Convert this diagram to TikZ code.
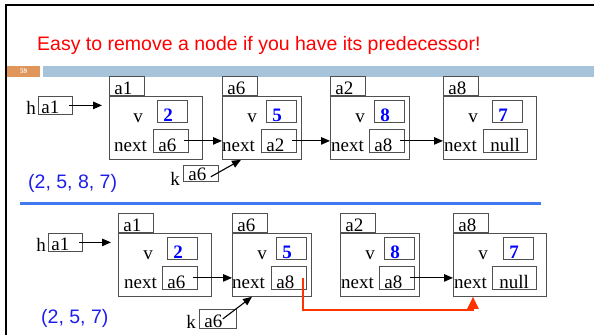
\documentclass[tikz,border=0pt]{standalone}
\usepackage{fontspec}
\setmainfont{Liberation Serif}
\newfontfamily\arialfont{Liberation Sans}
\usepackage{xcolor}
\usetikzlibrary{arrows.meta,positioning,calc}
\definecolor{boxgray}{RGB}{80,80,80}
\definecolor{valblue}{RGB}{0,0,255}
\definecolor{listblue}{RGB}{30,30,235}
\definecolor{titlered}{RGB}{255,0,0}
\definecolor{linkred}{RGB}{255,51,0}
\definecolor{barblue}{RGB}{166,195,218}
\definecolor{barorange}{RGB}{224,149,91}
\definecolor{sepblue}{RGB}{66,120,240}

\begin{document}
\begin{tikzpicture}[x=1pt,y=-1pt,
  txt/.style={inner sep=0pt,font=\fontsize{19}{19}\selectfont},
  box/.style={draw=boxgray,line width=.8pt,inner xsep=5pt,inner ysep=0pt,
    text depth=1pt,align=left,anchor=north west,font=\fontsize{19}{19}\selectfont},
  record/.style={draw=boxgray,line width=.8pt,minimum height=63pt,inner sep=0pt,anchor=north west},
  wide/.style={record,minimum width=93pt},
  narrow/.style={record,minimum width=79pt},
  tab/.style={box,text width=25pt,text height=18pt,anchor=south west},
  ptrbox/.style={box,inner xsep=3pt,text width=28pt,text height=17pt},
  valbox/.style={box,inner xsep=6pt,text width=18pt,text height=21pt,text depth=.5pt,
    text=valblue,font=\fontsize{19}{19}\selectfont\bfseries},
  nextbox/.style={box,text width=25pt,text height=22pt},
  nullbox/.style={box,inner xsep=7pt,text width=30pt,text height=22pt},
  listlbl/.style={anchor=base west,inner sep=0pt,text=listblue,
    font=\arialfont\fontsize{19.5}{20}\selectfont},
  ptr/.style={line width=1.1pt,-{Triangle[length=9pt,width=7.5pt]}},
  relink/.style={draw=linkred,line width=2.2pt,-{Triangle[length=12pt,width=11pt]}}]
\useasboundingbox (0,0) rectangle (594,335);

% slide frame, title and header bar
\draw[line width=2pt] (6,335) -- (6,5) -- (594,5);
\node[anchor=base west,inner sep=0pt,text=titlered,font=\arialfont\fontsize{19.5}{20}\selectfont]
  (title) at (37,50) {Easy to remove a node if you have its predecessor!};
\fill[barorange] (7,66) rectangle (40,77);
\node[text=white,font=\fontsize{7}{7}\selectfont\bfseries,inner sep=0pt] (page) at (23.5,71.5) {59};
\fill[barblue] (43,66) rectangle (594,77);

% list before removal
\node[txt,anchor=base east] (thl) at (36,114) {h};
\node[ptrbox] (th) at (38,96) {a1};

\node[wide] (ta1) at (109,96) {};
\node[tab] (ta1t) at (ta1.north west) {a1};
\node[txt,anchor=base] (ta1vl) at (138,122) {v};
\node[valbox] (ta1v) at (157,100) {2};
\node[txt,anchor=base west] (ta1nl) at (114,151) {next};
\node[nextbox] (ta1n) at (153,129) {a6};

\node[narrow] (ta6) at (222,96) {};
\node[tab] (ta6t) at (ta6.north west) {a6};
\node[txt,anchor=base] (ta6vl) at (252,122) {v};
\node[valbox] (ta6v) at (266,100) {5};
\node[txt,anchor=base west] (ta6nl) at (222,151) {next};
\node[nextbox] (ta6n) at (261,129) {a2};

\node[narrow] (ta2) at (330,96) {};
\node[tab] (ta2t) at (ta2.north west) {a2};
\node[txt,anchor=base] (ta2vl) at (360,122) {v};
\node[valbox] (ta2v) at (374,100) {8};
\node[txt,anchor=base west] (ta2nl) at (331,151) {next};
\node[nextbox] (ta2n) at (369,129) {a8};

\node[wide] (ta8) at (443,96) {};
\node[tab] (ta8t) at (ta8.north west) {a8};
\node[txt,anchor=base] (ta8vl) at (473,122) {v};
\node[valbox] (ta8v) at (492,100) {7};
\node[txt,anchor=base west] (ta8nl) at (444,151) {next};
\node[nullbox] (ta8n) at (483,129) {null};

\node[txt,anchor=base east] (tkl) at (180,185) {k};
\node[box,text width=25pt,text height=15pt] (tk) at (183,165) {a6};
\node[listlbl] (tlist) at (28,188) {(2, 5, 8, 7)};

\draw[ptr,shorten >=7pt] ([xshift=-4pt]th.east) -- (th -| ta1.west);
\draw[ptr] ([xshift=-5pt]ta1n.east) -- (ta1n -| ta6.west);
\draw[ptr] ([xshift=-5pt]ta6n.east) -- (ta6n -| ta2.west);
\draw[ptr] ([xshift=-5pt]ta2n.east) -- (ta2n -| ta8.west);
\draw[ptr] ([xshift=-8pt,yshift=5pt]tk.south east) -- ([xshift=19pt]ta6.south west);

% separator
\draw[sepblue,line width=3pt] (20,203) -- (541,203);

% list after a2 is unlinked
\node[txt,anchor=base east] (bhl) at (46,251) {h};
\node[ptrbox] (bh) at (48,233) {a1};

\node[wide] (ba1) at (118,233) {};
\node[tab] (ba1t) at (ba1.north west) {a1};
\node[txt,anchor=base] (ba1vl) at (148,259) {v};
\node[valbox] (ba1v) at (167,237) {2};
\node[txt,anchor=base west] (ba1nl) at (124,288) {next};
\node[nextbox] (ba1n) at (162,266) {a6};

\node[narrow] (ba6) at (232,233) {};
\node[tab] (ba6t) at (ba6.north west) {a6};
\node[txt,anchor=base] (ba6vl) at (262,259) {v};
\node[valbox] (ba6v) at (276,237) {5};
\node[txt,anchor=base west] (ba6nl) at (232,288) {next};
\node[nextbox] (ba6n) at (271,266) {a8};

\node[narrow] (ba2) at (340,233) {};
\node[tab] (ba2t) at (ba2.north west) {a2};
\node[txt,anchor=base] (ba2vl) at (370,259) {v};
\node[valbox] (ba2v) at (384,237) {8};
\node[txt,anchor=base west] (ba2nl) at (341,288) {next};
\node[nextbox] (ba2n) at (379,266) {a8};

\node[wide] (ba8) at (453,233) {};
\node[tab] (ba8t) at (ba8.north west) {a8};
\node[txt,anchor=base] (ba8vl) at (483,259) {v};
\node[valbox] (ba8v) at (503,237) {7};
\node[txt,anchor=base west] (ba8nl) at (454,288) {next};
\node[nullbox] (ba8n) at (492,266) {null};

\node[txt,anchor=base east] (bkl) at (196,328) {k};
\node[box,text width=27pt,text height=18pt] (bk) at (199,309) {a6};
\node[listlbl] (blist) at (41,323) {(2, 5, 7)};

\draw[ptr,shorten >=7pt] ([xshift=-4pt]bh.east) -- (bh -| ba1.west);
\draw[ptr] ([xshift=-5pt]ba1n.east) -- (ba1n -| ba6.west);
\draw[ptr] ([xshift=-5pt]ba2n.east) -- (ba2n -| ba8.west);
\draw[ptr] ([xshift=-14pt]bk.east) -- ([xshift=20pt]ba6.south west);

% bypass link from a6 straight to a8
\coordinate (bend) at (473,310);
\draw[relink] ([xshift=-4pt]ba6n.east) |- (bend) -- ([xshift=20pt]ba8.south west);
\end{tikzpicture}
\end{document}
